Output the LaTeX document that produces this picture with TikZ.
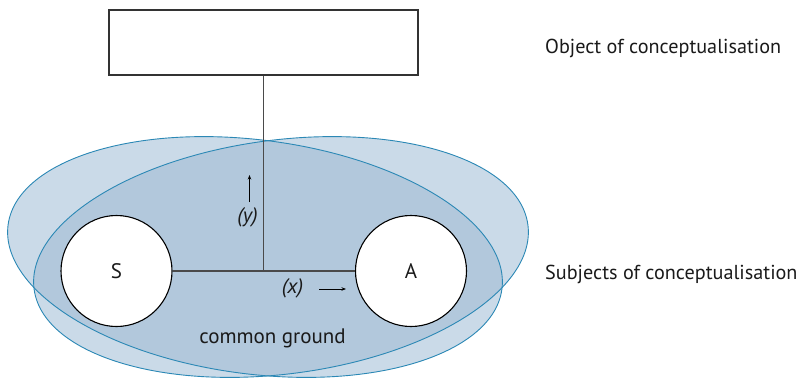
\documentclass[tikz,border=0pt]{standalone}
\usepackage{fontspec}
\setmainfont{PT Sans}
\usetikzlibrary{arrows.meta}
\definecolor{lightfill}{HTML}{CADAE8}
\definecolor{darkfill}{HTML}{B2C8DC}
\definecolor{ellline}{HTML}{2B88B5}
\definecolor{txt}{HTML}{1A1A1A}
\definecolor{connline}{HTML}{4A4A4A}
\newcommand\lblfont{\fontsize{21}{24}\selectfont}
\newcommand\sidefont{\fontsize{20.2}{24}\selectfont}
\tikzset{
  lbl/.style={font=\lblfont, text=txt, inner sep=0pt},
  sidelbl/.style={font=\sidefont, text=txt, inner sep=0pt, anchor=west},
  ilbl/.style={font=\lblfont\itshape, text=txt, inner sep=0pt},
  circ/.style={circle, draw=black, line width=1.1pt, fill=white, minimum size=111pt, inner sep=0pt, font=\lblfont, text=txt},
  objbox/.style={rectangle, draw=black!80, line width=1.2pt, fill=white, minimum width=309pt, minimum height=65pt, inner sep=0pt},
  conn/.style={draw=connline, line width=1.1pt},
  smallarrow/.style={draw=black, line width=0.8pt, -{Stealth[length=4.5pt,width=3.5pt]}},
  ellA/.style={shift={(255,257)}, rotate=-7.4},
  ellB/.style={shift={(281,257)}, rotate=7.4},
}
\begin{document}
\begin{tikzpicture}[x=1pt,y=-1pt]
\useasboundingbox (0,0) rectangle (809,383);
% ellipses
\fill[lightfill, ellA] (0,0) ellipse [x radius=249, y radius=117];
\fill[lightfill, ellB] (0,0) ellipse [x radius=249, y radius=117];
\begin{scope}
  \clip[ellA] (0,0) ellipse [x radius=249, y radius=117];
  \fill[darkfill, ellB] (0,0) ellipse [x radius=249, y radius=117];
\end{scope}
\draw[ellline, line width=0.9pt, ellA] (0,0) ellipse [x radius=249, y radius=117];
\draw[ellline, line width=0.9pt, ellB] (0,0) ellipse [x radius=249, y radius=117];
% nodes
\node[objbox] (obj) at (263.5,42.5) {};
\node[circ] (S) at (116.5,271) {S};
\node[circ] (A) at (411,271) {A};
\coordinate (j) at (263.5,271);
\draw[conn] (obj.south) -- (j);
\draw[conn] (S.east) -- (A.west);
% arrows and labels
\coordinate (ya) at (249.5,202);
\coordinate (yb) at (249.5,175);
\draw[smallarrow] (ya) -- (yb);
\node[ilbl] (ylab) at (247.5,217) {(y)};
\coordinate (xa) at (319,289);
\coordinate (xb) at (346,289);
\draw[smallarrow] (xa) -- (xb);
\node[ilbl] (xlab) at (292.5,288) {(x)};
\node[lbl] (cg) at (272.5,338) {common ground};
\node[sidelbl] (objlab) at (545,48) {Object of conceptualisation};
\node[sidelbl] (sublab) at (545,274) {Subjects of conceptualisation};
\end{tikzpicture}
\end{document}
